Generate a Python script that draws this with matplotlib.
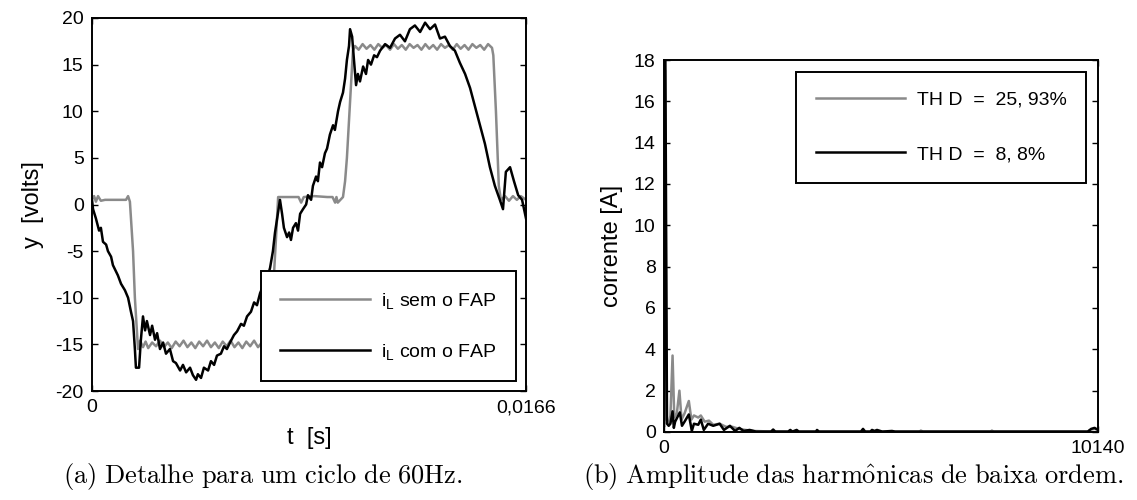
import matplotlib
matplotlib.use("Agg")
import matplotlib.pyplot as plt
import numpy as np

plt.rcParams['font.family'] = ['Liberation Sans', 'DejaVu Sans']
plt.rcParams['mathtext.fontset'] = 'custom'
plt.rcParams['mathtext.rm'] = 'Liberation Sans'
plt.rcParams['mathtext.it'] = 'Liberation Sans'
plt.rcParams['axes.unicode_minus'] = False

# ---------------- (a) one 60 Hz cycle ----------------
t_black_ms = [0.00, 0.04, 0.15, 0.27, 0.34, 0.42, 0.54, 0.61, 0.73, 0.80, 0.92, 0.99, 1.11, 1.26, 1.38,
              1.49, 1.57, 1.64, 1.68, 1.80, 1.87, 1.95, 2.03, 2.10, 2.22, 2.30, 2.41, 2.49, 2.60, 2.72,
              2.83, 2.98, 3.10, 3.21, 3.37, 3.48, 3.60, 3.75, 3.86, 3.98, 4.05, 4.17, 4.28, 4.44, 4.55,
              4.67, 4.78, 4.93, 5.05, 5.16, 5.28, 5.43, 5.55, 5.70, 5.81, 5.93, 6.08, 6.20, 6.31, 6.43,
              6.58, 6.69, 6.81, 6.92, 7.00, 7.08, 7.19, 7.27, 7.34, 7.46, 7.54, 7.61, 7.69, 7.80, 7.88,
              7.96, 8.07, 8.19, 8.26, 8.38, 8.45, 8.57, 8.64, 8.72, 8.80, 8.91, 8.99, 9.10, 9.22, 9.29,
              9.41, 9.49, 9.60, 9.68, 9.75, 9.83, 9.87, 9.95, 10.02, 10.10, 10.17, 10.25, 10.37, 10.48,
              10.56, 10.67, 10.79, 10.90, 11.02, 11.21, 11.40, 11.59, 11.78, 11.97, 12.16, 12.35, 12.55,
              12.74, 12.93, 13.12, 13.31, 13.50, 13.69, 13.88, 14.07, 14.27, 14.46, 14.65, 14.84, 15.03,
              15.22, 15.41, 15.60, 15.72, 15.83, 15.99, 16.14, 16.30, 16.45, 16.60]
v_black = [0.5, -0.5, -1.5, -2.8, -2.5, -4.0, -4.3, -5.0, -5.6, -6.5, -7.2, -7.6, -8.5, -9.2, -10.0,
           -11.5, -12.5, -15.5, -17.5, -17.5, -14.5, -12.0, -13.5, -12.5, -14.0, -13.0, -14.5, -13.8, -15.5, -14.8,
           -16.0, -15.5, -16.8, -17.0, -17.8, -17.2, -18.0, -17.5, -18.3, -18.8, -18.2, -18.6, -17.5, -17.8, -16.8,
           -17.2, -16.2, -16.0, -15.2, -15.5, -14.8, -14.0, -13.6, -12.8, -13.0, -12.0, -11.5, -10.5, -10.8, -9.5,
           -8.5, -8.0, -6.8, -5.0, -3.0, -1.5, 0.5, -1.0, -2.5, -3.5, -3.0, -3.8, -2.5, -2.0, -2.8,
           -1.0, -0.5, 0.0, 1.0, 0.5, 2.0, 3.0, 2.5, 4.5, 4.0, 5.5, 6.0, 7.5, 8.5, 8.0,
           10.0, 11.0, 12.0, 13.5, 15.5, 17.0, 18.8, 18.0, 15.5, 12.8, 14.0, 13.2, 14.8, 14.0,
           15.5, 15.0, 16.0, 15.8, 16.5, 17.2, 16.8, 17.8, 18.2, 17.5, 18.8, 19.2, 18.5,
           19.5, 18.8, 19.3, 17.8, 18.0, 17.0, 16.5, 15.2, 14.0, 12.5, 10.5, 8.5, 6.5,
           4.0, 2.0, 0.5, -0.5, 3.5, 4.0, 2.5, 1.0, 0.5, -1.5]

t_gray_ms = [0.00, 0.08, 0.15, 0.23, 0.34, 0.50, 0.80, 1.00, 1.30, 1.38, 1.45, 1.57, 1.64, 1.76,
             1.84, 1.95, 2.05, 2.15, 2.30, 2.45, 2.60, 2.75, 2.90, 3.05, 3.20, 3.35, 3.50, 3.65, 3.80,
             3.95, 4.10, 4.25, 4.40, 4.55, 4.70, 4.85, 5.00, 5.15, 5.30, 5.45, 5.60, 5.75, 5.90, 6.05,
             6.20, 6.35, 6.50, 6.65, 6.80, 6.85, 6.95, 7.03, 7.12, 7.50, 7.90, 8.00, 8.10, 8.50, 9.00,
             9.20, 9.30, 9.35, 9.40, 9.60, 9.68, 9.75, 9.87, 9.98, 10.06, 10.20, 10.35, 10.50, 10.65,
             10.80, 10.95, 11.10, 11.25, 11.40, 11.55, 11.70, 11.85, 12.00, 12.15, 12.30, 12.45, 12.60,
             12.75, 12.90, 13.05, 13.20, 13.35, 13.50, 13.65, 13.80, 13.95, 14.10, 14.25, 14.40, 14.55,
             14.70, 14.85, 15.00, 15.15, 15.30, 15.35, 15.45, 15.56, 15.64, 15.80, 15.95, 16.10, 16.25,
             16.40, 16.60]
v_gray = [0.6, 0.9, 0.3, 0.9, 0.4, 0.5, 0.5, 0.5, 0.5, 0.9, 0.3, -5.0, -10.0, -15.5,
          -14.6, -15.3, -14.7, -15.4, -14.8, -15.2, -14.6, -15.3, -14.8, -15.4, -14.7, -15.2, -14.6, -15.3, -14.8,
          -15.4, -14.7, -15.2, -14.6, -15.3, -14.8, -15.4, -14.7, -15.2, -14.6, -15.3, -14.8, -15.4, -14.7, -15.2,
          -14.6, -15.3, -14.8, -15.2, -15.0, -14.5, -8.0, -4.0, 0.8, 0.8, 0.8, 0.2, 0.8, 0.9, 0.8,
          0.8, 0.2, 0.8, 0.2, 0.8, 2.5, 5.0, 11.0, 16.5, 17.0, 16.6, 17.2, 16.7, 17.1,
          16.6, 17.2, 16.8, 17.1, 16.6, 17.2, 16.7, 17.1, 16.6, 17.2, 16.8, 17.1, 16.6,
          17.2, 16.7, 17.1, 16.6, 17.2, 16.8, 17.1, 16.6, 17.2, 16.7, 17.1, 16.6, 17.2,
          16.8, 17.1, 16.6, 17.2, 16.8, 16.0, 10.0, 2.0, 0.5, 0.9, 0.4, 0.9, 0.5,
          0.9, 0.5]

leg_a = [r'i$_{\mathrm{L}}$ sem o FAP', r'i$_{\mathrm{L}}$ com o FAP']
xticks_a = [0, 0.0166]
xticklabels_a = ['0', '0,0166']
yticks_a = [-20, -15, -10, -5, 0, 5, 10, 15, 20]

# ---------------- (b) harmonic spectrum ----------------
f_gray = [0, 25, 60, 110, 150, 200, 240, 300, 360, 410, 480, 580, 640, 700, 800, 860, 950, 1050,
          1150, 1300, 1450, 1600, 1750, 1900, 2100, 2400, 3000, 5980, 6000, 6050, 7640, 7660, 7700,
          9900, 9980, 10060, 10140]
a_gray = [0.3, 17.5, 0.6, 0.4, 0.8, 3.7, 0.7, 0.9, 2.0, 0.6, 0.9, 1.5, 0.6, 0.8, 0.7, 0.8, 0.5, 0.55,
          0.35, 0.4, 0.25, 0.25, 0.15, 0.1, 0.05, 0.03, 0.02, 0.02, 0.07, 0.02, 0.02, 0.07, 0.02,
          0.02, 0.12, 0.15, 0.1]
f_black = [0, 30, 70, 110, 150, 200, 230, 260, 370, 420, 480, 580, 650, 700, 800, 860, 930, 1030,
           1150, 1300, 1400, 1540, 1660, 1760, 1860, 2000, 2150, 2500, 2550, 2600, 2900, 2950, 3000,
           3100, 3150, 3550, 3575, 3620, 4600, 4650, 4700, 4820, 4860, 4920, 4976, 5100, 5326, 5400,
           9900, 9980, 10060, 10140]
a_black = [0.3, 19.0, 0.4, 0.3, 0.4, 1.0, 0.2, 0.5, 0.95, 0.3, 0.5, 0.85, 0.05, 0.4, 0.35, 0.6, 0.1, 0.4,
           0.3, 0.4, 0.1, 0.3, 0.05, 0.2, 0.05, 0.1, 0.02, 0.02, 0.12, 0.02, 0.02, 0.1, 0.02,
           0.1, 0.02, 0.02, 0.1, 0.02, 0.02, 0.15, 0.02, 0.02, 0.1, 0.05, 0.1, 0.02, 0.05, 0.02,
           0.02, 0.15, 0.2, 0.1]
leg_b = ['TH D  =  25, 93%', 'TH D  =  8, 8%']
xticks_b = [0, 10140]
yticks_b = [0, 2, 4, 6, 8, 10, 12, 14, 16, 18]

GRAY = '#8a8a8a'
W, H = 1137, 500
fig = plt.figure(figsize=(W / 100, H / 100), dpi=100)

def box(x0, y0, x1, y1):
    return [x0 / W, 1 - y1 / H, (x1 - x0) / W, (y1 - y0) / H]

def style(ax):
    ax.tick_params(direction='in', top=True, right=True, length=4, width=1,
                   labelsize=14, pad=6)
    for s in ax.spines.values():
        s.set_linewidth(1.4)

# (a)
ax1 = fig.add_axes(box(92, 18, 526, 391))
ax1.plot(np.array(t_gray_ms) / 1000, v_gray, color=GRAY, lw=1.8, label=leg_a[0])
ax1.plot(np.array(t_black_ms) / 1000, v_black, color='black', lw=1.8, label=leg_a[1])
ax1.set_xlim(0, 0.0166)
ax1.set_ylim(-20, 20)
ax1.set_xticks(xticks_a)
ax1.set_xticklabels(xticklabels_a)
ax1.set_yticks(yticks_a)
style(ax1)
ax1.set_ylabel('y  [volts]', fontsize=17, labelpad=8)
ax1.set_xlabel('t  [s]', fontsize=17, labelpad=8)
lg1 = ax1.legend(loc='lower right', fontsize=14, handlelength=4.6, labelspacing=1.6,
                 borderpad=1.0, borderaxespad=0.5, fancybox=False, edgecolor='black',
                 framealpha=1, handletextpad=0.6)
lg1.get_frame().set_linewidth(1.4)

# (b)
ax2 = fig.add_axes(box(664, 60, 1098, 432))
ax2.plot(f_gray, a_gray, color=GRAY, lw=1.8, label=leg_b[0])
ax2.plot(f_black, a_black, color='black', lw=1.8, label=leg_b[1])
ax2.set_xlim(0, 10140)
ax2.set_ylim(0, 18)
ax2.set_xticks(xticks_b)
ax2.set_xticklabels([str(v) for v in xticks_b])
ax2.set_yticks(yticks_b)
style(ax2)
ax2.set_ylabel('corrente [A]', fontsize=17, labelpad=8)
lg2 = ax2.legend(loc='upper right', fontsize=14, handlelength=4.6, labelspacing=1.9,
                 borderpad=1.0, borderaxespad=0.6, fancybox=False, edgecolor='black',
                 framealpha=1, handletextpad=0.6)
lg2.get_frame().set_linewidth(1.4)

# captions
fig.text(263 / W, 1 - 477 / H, r'$\mathrm{(a)\ Detalhe\ para\ um\ ciclo\ de\ 60Hz.}$',
         ha='center', va='center', fontsize=19, math_fontfamily='cm')
fig.text(853 / W, 1 - 477 / H, r'$\mathrm{(b)\ Amplitude\ das\ harm\hat{o}nicas\ de\ baixa\ ordem.}$',
         ha='center', va='center', fontsize=19, math_fontfamily='cm')

fig.savefig('out.png', dpi=100)
